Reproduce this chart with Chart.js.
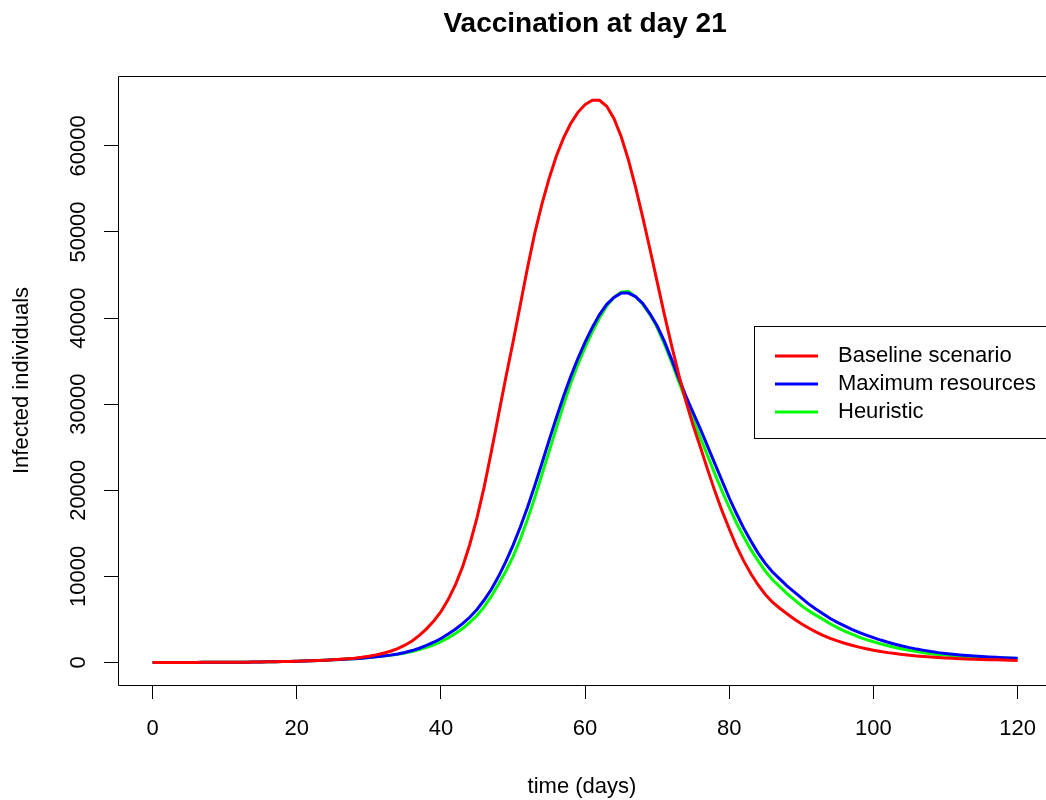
<!DOCTYPE html>
<html>
<head>
<meta charset="utf-8">
<title>Vaccination at day 21</title>
<script src="https://cdn.jsdelivr.net/npm/chart.js@4/dist/chart.umd.min.js"></script>
<style>
  html, body { margin: 0; padding: 0; background: #fff; overflow: hidden; }
  canvas { display: block; }
</style>
</head>
<body>
<canvas id="epidemic" width="1046" height="800"></canvas>
<script>
const chartTitle = 'Vaccination at day 21';
const xTitle = 'time (days)';
const yTitle = 'Infected individuals';

const xTicks = [0, 20, 40, 60, 80, 100, 120];
const yTicks = [0, 10000, 20000, 30000, 40000, 50000, 60000];

// one value per day, day 0 .. day 120
const days = Array.from({ length: 121 }, (_, i) => i);

const baseline = [
  1, 2, 2, 3, 4, 5, 7, 9, 11, 14,
  18, 23, 29, 36, 45, 56, 68, 83, 100, 120,
  140, 165, 195, 230, 265, 310, 360, 420, 500, 600,
  720, 880, 1070, 1300, 1600, 2000, 2500, 3150, 3900, 4800,
  5900, 7300, 9000, 11100, 13700, 16800, 20400, 24500, 28800, 33100,
  37200, 41500, 45800, 49800, 53200, 56200, 58800, 60900, 62600, 63900,
  64800, 65300, 65300, 64600, 63200, 61100, 58400, 55200, 51700, 48000,
  44200, 40400, 36800, 33400, 30300, 27500, 25000, 22400, 19900, 17600,
  15500, 13500, 11800, 10300, 9000, 7900, 7000, 6300, 5650, 5050,
  4500, 4000, 3550, 3150, 2800, 2500, 2230, 1990, 1780, 1590,
  1420, 1270, 1140, 1030, 930, 840, 760, 690, 630, 570,
  520, 480, 440, 410, 380, 350, 320, 300, 270, 250,
  230
];

const maxResources = [
  1, 2, 2, 3, 4, 5, 7, 9, 11, 14,
  18, 23, 29, 36, 45, 56, 68, 83, 100, 120,
  140, 165, 195, 230, 265, 300, 340, 390, 440, 500,
  570, 650, 740, 850, 980, 1150, 1380, 1650, 1980, 2350,
  2780, 3300, 3850, 4500, 5250, 6150, 7250, 8500, 10000, 11700,
  13600, 15700, 18000, 20500, 23100, 25800, 28400, 30900, 33200, 35300,
  37200, 38900, 40400, 41600, 42400, 42900, 42900, 42500, 41700, 40500,
  39100, 37300, 35200, 33000, 30900, 29000, 27100, 25100, 23100, 21100,
  19100, 17300, 15600, 14100, 12700, 11500, 10500, 9700, 8900, 8200,
  7500, 6800, 6200, 5650, 5100, 4650, 4250, 3850, 3500, 3180,
  2880, 2600, 2350, 2120, 1910, 1720, 1550, 1400, 1260, 1140,
  1040, 950, 870, 800, 740, 690, 640, 600, 560, 520,
  480
];

const heuristic = [
  1, 2, 2, 3, 4, 5, 7, 9, 11, 14,
  18, 23, 29, 36, 45, 56, 68, 83, 100, 120,
  140, 165, 195, 230, 265, 300, 340, 390, 440, 500,
  570, 650, 740, 840, 960, 1100, 1280, 1500, 1750, 2050,
  2420, 2850, 3350, 3950, 4650, 5450, 6450, 7700, 9100, 10600,
  12300, 14300, 16600, 19100, 21800, 24500, 27200, 29900, 32400, 34600,
  36600, 38400, 40000, 41400, 42400, 43000, 43100, 42500, 41600, 40400,
  38900, 37000, 34900, 32600, 30400, 28200, 26100, 24000, 21900, 19900,
  18000, 16200, 14600, 13100, 11800, 10600, 9600, 8800, 8000, 7300,
  6600, 6000, 5500, 5000, 4500, 4050, 3650, 3300, 2950, 2650,
  2400, 2160, 1940, 1740, 1560, 1400, 1260, 1130, 1020, 930,
  850, 780, 720, 670, 630, 590, 560, 530, 510, 490,
  470
];

const seriesNames = ['Baseline scenario', 'Maximum resources', 'Heuristic'];
const seriesColors = ['#ff0000', '#0000ff', '#00ff00'];
const seriesValues = [baseline, maxResources, heuristic];

const FONT = '"Liberation Sans", Arial, sans-serif';

// title over the middle of the plotting region
const mainTitle = {
  id: 'mainTitle',
  afterDraw(chart) {
    const { ctx } = chart;
    const x = chart.scales.x;
    const mid = (xTicks[0] + xTicks[xTicks.length - 1]) / 2;
    ctx.save();
    ctx.font = 'bold 28px ' + FONT;
    ctx.fillStyle = '#000';
    ctx.textAlign = 'center';
    ctx.textBaseline = 'middle';
    ctx.fillText(chartTitle, x.getPixelForValue(mid), 24);
    ctx.restore();
  }
};

// box around the plot (right side runs off the page)
const plotFrame = {
  id: 'plotFrame',
  afterDatasetsDraw(chart) {
    const { ctx, chartArea: a } = chart;
    ctx.save();
    ctx.strokeStyle = '#000';
    ctx.lineWidth = 1;
    ctx.beginPath();
    ctx.moveTo(a.right + 10, a.top + 0.5);
    ctx.lineTo(a.left + 0.5, a.top + 0.5);
    ctx.lineTo(a.left + 0.5, a.bottom + 0.5);
    ctx.lineTo(a.right + 10, a.bottom + 0.5);
    ctx.stroke();
    ctx.restore();
  }
};

// boxed legend on the right
const boxLegend = {
  id: 'boxLegend',
  afterDraw(chart) {
    const { ctx } = chart;
    const left = 754, top = 326, bottom = 438;
    ctx.save();
    ctx.fillStyle = '#fff';
    ctx.fillRect(left, top, 400, bottom - top);
    ctx.strokeStyle = '#000';
    ctx.lineWidth = 1;
    ctx.strokeRect(left + 0.5, top + 0.5, 400, bottom - top);
    ctx.font = '22px ' + FONT;
    ctx.textAlign = 'left';
    ctx.textBaseline = 'middle';
    chart.data.datasets.forEach((ds, i) => {
      const y = 356 + i * 28;
      ctx.strokeStyle = ds.borderColor;
      ctx.lineWidth = 3;
      ctx.beginPath();
      ctx.moveTo(775, y);
      ctx.lineTo(818, y);
      ctx.stroke();
      ctx.fillStyle = '#000';
      ctx.fillText(ds.label, 838, y);
    });
    ctx.restore();
  }
};

new Chart(document.getElementById('epidemic'), {
  type: 'line',
  data: {
    datasets: seriesValues.map((vals, i) => ({
      label: seriesNames[i],
      data: days.map((d, j) => ({ x: d, y: vals[j] })),
      borderColor: seriesColors[i],
      borderWidth: 3,
      pointRadius: 0,
      tension: 0,
      fill: false
    }))
  },
  options: {
    responsive: false,
    animation: false,
    devicePixelRatio: 1,
    layout: { padding: { top: 76, left: 0, right: 0, bottom: 0 } },
    plugins: {
      legend: { display: false },
      title: { display: false },
      tooltip: { enabled: false }
    },
    scales: {
      x: {
        type: 'linear',
        min: -4.8,
        max: 123.94,
        afterFit: s => {
          s.height = 115;
          s.paddingLeft = 0;
          s.paddingRight = 0;
        },
        afterBuildTicks: s => { s.ticks = xTicks.map(v => ({ value: v })); },
        grid: { drawOnChartArea: false, drawTicks: true, tickLength: 14, tickColor: '#000' },
        border: { display: false },
        ticks: {
          color: '#000',
          font: { family: FONT, size: 22 },
          padding: 17,
          maxRotation: 0,
          callback: v => String(v)
        },
        title: {
          display: true,
          text: xTitle,
          color: '#000',
          font: { family: FONT, size: 22 },
          padding: { top: 0, bottom: 0 }
        }
      },
      y: {
        type: 'linear',
        min: -2620,
        max: 68120,
        afterFit: s => {
          s.width = 118;
          s.paddingTop = 0;
          s.paddingBottom = 0;
        },
        afterBuildTicks: s => { s.ticks = yTicks.map(v => ({ value: v })); },
        grid: { drawOnChartArea: false, drawTicks: true, tickLength: 14, tickColor: '#000' },
        border: { display: false },
        ticks: {
          color: '#000',
          font: { family: FONT, size: 22 },
          padding: -6,
          crossAlign: 'center',
          minRotation: 90,
          maxRotation: 90,
          callback: v => String(v)
        },
        title: {
          display: true,
          text: yTitle,
          color: '#000',
          font: { family: FONT, size: 22 },
          padding: { top: 9, bottom: 0 }
        }
      }
    }
  },
  plugins: [mainTitle, plotFrame, boxLegend]
});
</script>
</body>
</html>
